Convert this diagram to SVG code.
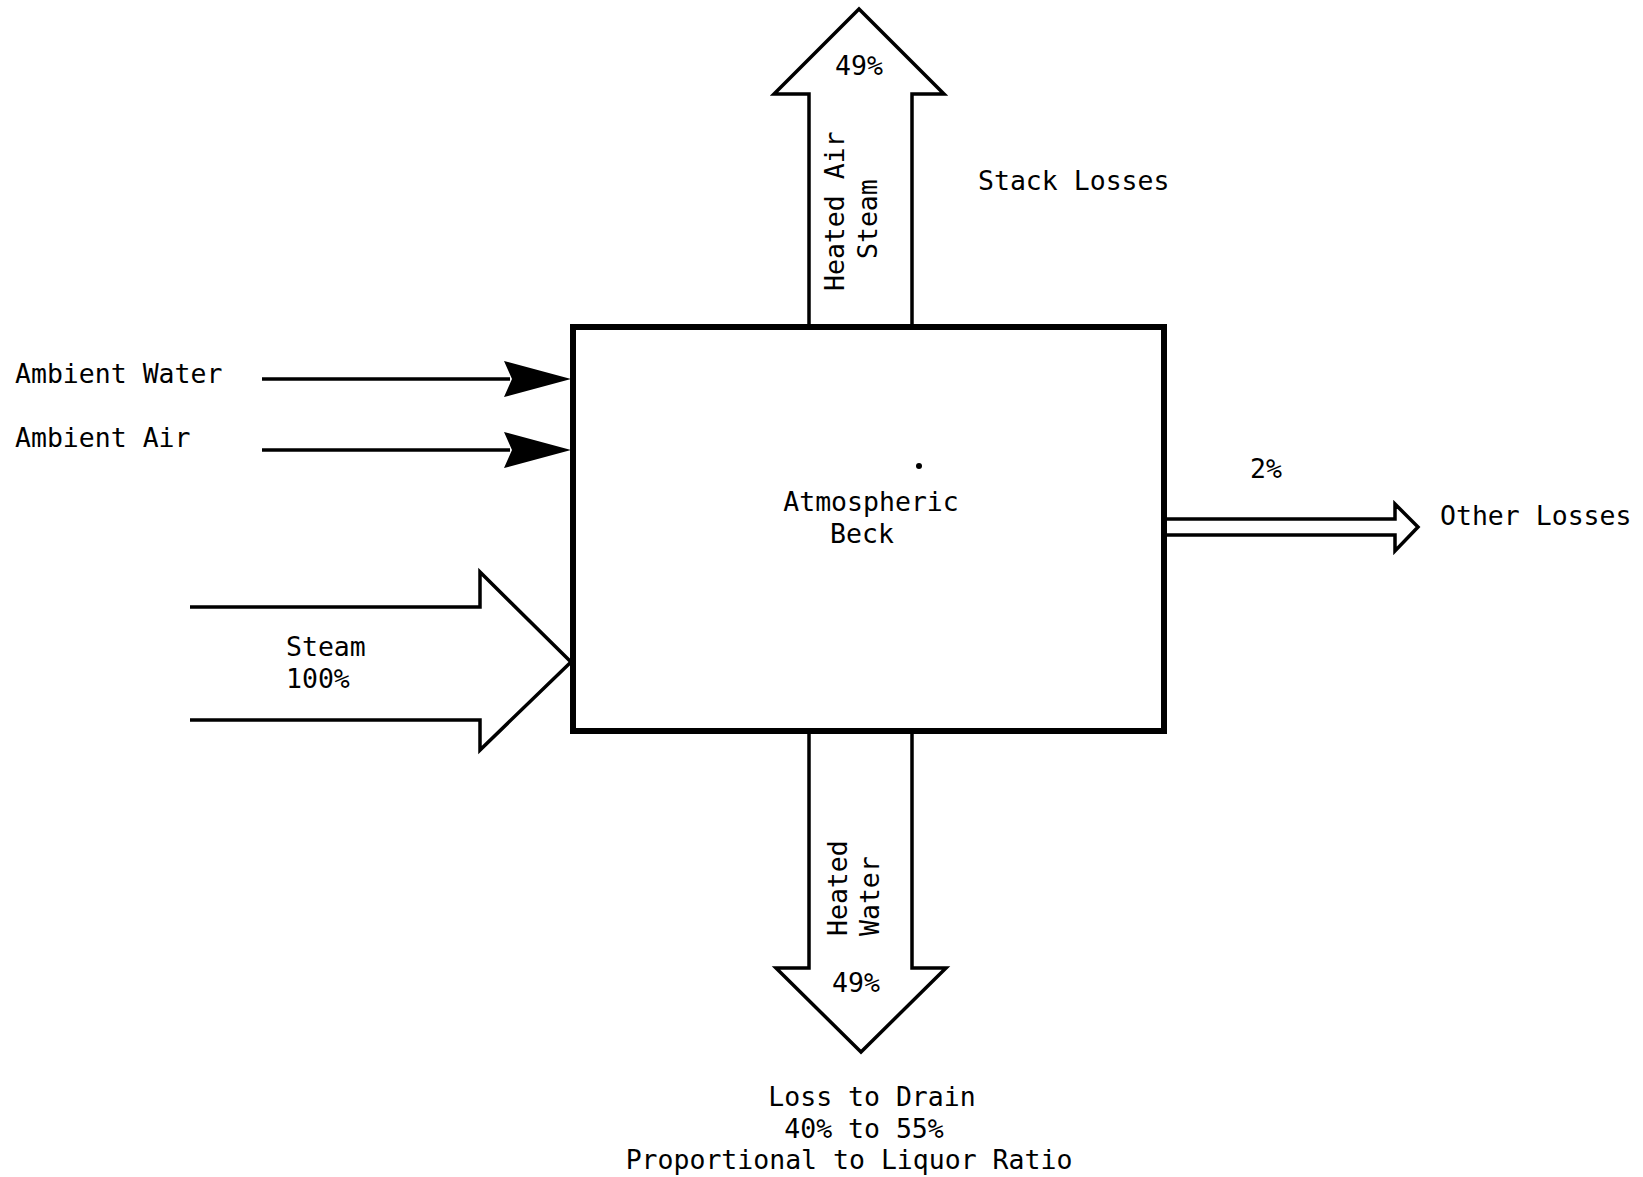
<svg xmlns="http://www.w3.org/2000/svg" width="1643" height="1177" viewBox="0 0 1643 1177">
<style>
.t{font-family:"DejaVu Sans Mono","Liberation Mono",monospace;font-size:26.5px;fill:#000}
.c{text-anchor:middle}
.ln{fill:none;stroke:#000;stroke-width:3.5;stroke-linejoin:miter}
.box{fill:#fff;stroke:#000;stroke-width:6}
</style>
<rect width="1643" height="1177" fill="#fff"/>
<g id="connectors">
<line class="ln" x1="262" y1="379" x2="510" y2="379"/>
<path d="M504,361 L571,379 L504,397 L512,379 Z" fill="#000"/>
<line class="ln" x1="262" y1="450" x2="510" y2="450"/>
<path d="M504,432 L571,450 L504,468 L512,450 Z" fill="#000"/>
<path class="ln" d="M190,607 L480,607 L480,572 L571,662 L480,750 L480,720 L190,720"/>
<path class="ln" d="M809,327 L809,94 L774,94 L859,9 L944,94 L912,94 L912,327"/>
<path class="ln" d="M809,731 L809,968 L776,968 L861,1052 L946,968 L912,968 L912,731"/>
<path class="ln" d="M1164,519 L1395,519 L1395,504 L1418,527 L1395,551 L1395,535 L1164,535"/>
</g>
<g id="beck">
<rect class="box" x="573" y="327" width="591" height="404"/>
<text class="t c" x="871" y="511">Atmospheric</text>
<text class="t c" x="862" y="543">Beck</text>
<circle cx="919" cy="466" r="3" fill="#000"/>
</g>
<g id="labels">
<text class="t" x="15" y="383">Ambient Water</text>
<text class="t" x="15" y="447">Ambient Air</text>
<text class="t" x="286" y="656">Steam</text>
<text class="t" x="286" y="688">100%</text>
<text class="t c" x="859" y="75">49%</text>
<text class="t" transform="translate(844,291) rotate(-90)">Heated Air</text>
<text class="t" transform="translate(877,259) rotate(-90)">Steam</text>
<text class="t" x="978" y="190">Stack Losses</text>
<text class="t" x="1250" y="478">2%</text>
<text class="t" x="1440" y="525">Other Losses</text>
<text class="t" transform="translate(847,936) rotate(-90)">Heated</text>
<text class="t" transform="translate(879,936) rotate(-90)">Water</text>
<text class="t c" x="856" y="992">49%</text>
<text class="t c" x="872" y="1106">Loss to Drain</text>
<text class="t c" x="864" y="1138">40% to 55%</text>
<text class="t c" x="849" y="1169">Proportional to Liquor Ratio</text>
</g>
</svg>
